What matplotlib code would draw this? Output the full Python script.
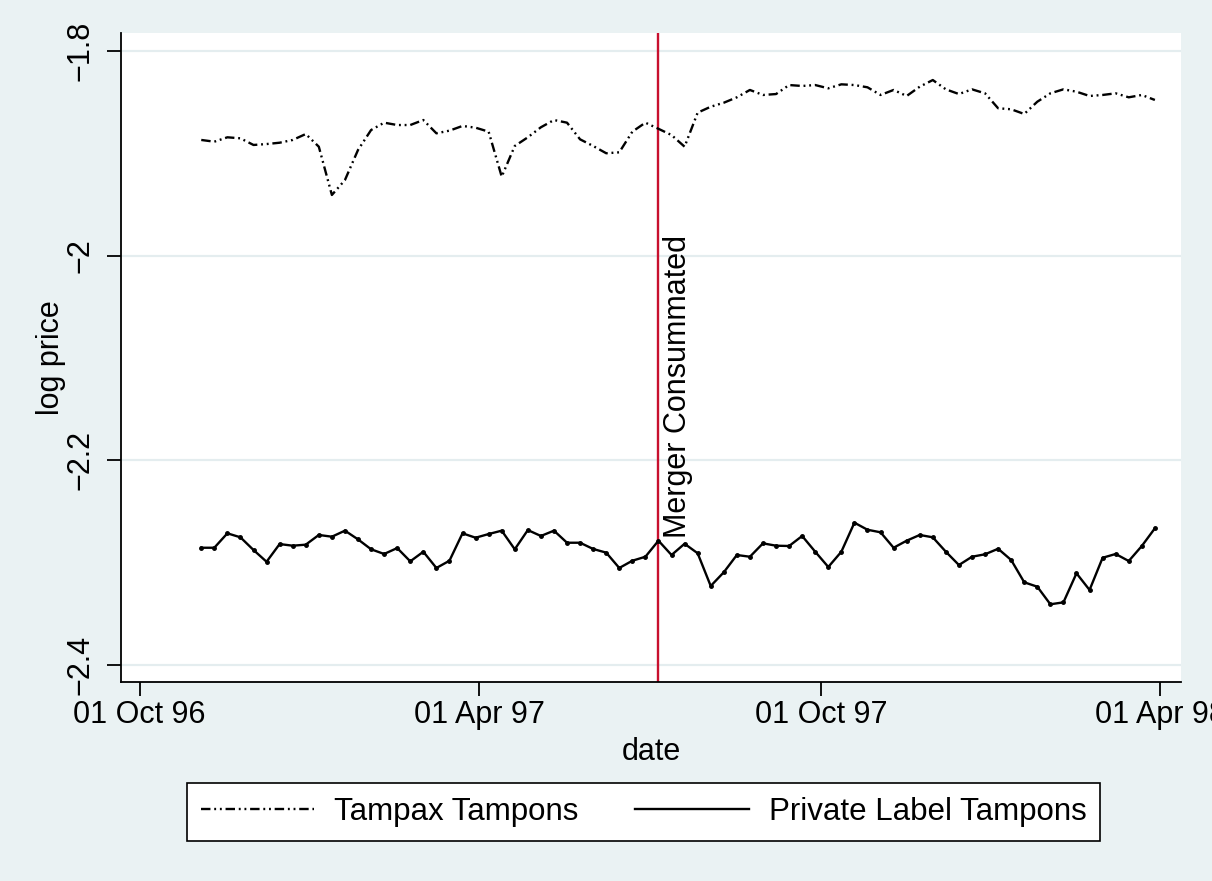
import matplotlib
matplotlib.use('Agg')
import matplotlib.pyplot as plt
from matplotlib.lines import Line2D
import pandas as pd

plt.rcParams['font.family'] = ['Liberation Sans', 'DejaVu Sans']

# ---------------- data ----------------
start_date = '1996-11-03'   # first weekly observation
merger_date = '1997-07-06'

tampax = [-1.8870, -1.8887, -1.8844, -1.8854, -1.8919, -1.8910, -1.8897, -1.8870, -1.8812, -1.8936,
          -1.9408, -1.9262, -1.8968, -1.8773, -1.8701, -1.8724, -1.8724, -1.8675, -1.8805, -1.8779,
          -1.8733, -1.8750, -1.8789, -1.9229, -1.8929, -1.8844, -1.8746, -1.8675, -1.8701, -1.8864,
          -1.8929, -1.9000, -1.8991, -1.8789, -1.8701, -1.8761, -1.8822, -1.8936, -1.8603, -1.8545,
          -1.8506, -1.8453, -1.8381, -1.8430, -1.8421, -1.8333, -1.8342, -1.8333, -1.8365, -1.8326,
          -1.8333, -1.8355, -1.8430, -1.8381, -1.8440, -1.8349, -1.8284, -1.8375, -1.8421, -1.8375,
          -1.8414, -1.8560, -1.8570, -1.8616, -1.8496, -1.8414, -1.8375, -1.8398, -1.8440, -1.8430,
          -1.8414, -1.8453, -1.8430, -1.8479]

private_label = [-2.2858, -2.2858, -2.2717, -2.2756, -2.2880, -2.2995, -2.2822, -2.2838, -2.2828, -2.2733,
                 -2.2750, -2.2691, -2.2776, -2.2873, -2.2919, -2.2861, -2.2991, -2.2897, -2.3056, -2.2985,
                 -2.2717, -2.2760, -2.2724, -2.2691, -2.2873, -2.2685, -2.2743, -2.2691, -2.2809, -2.2809,
                 -2.2870, -2.2906, -2.3056, -2.2985, -2.2946, -2.2789, -2.2929, -2.2819, -2.2912, -2.3232,
                 -2.3098, -2.2929, -2.2946, -2.2815, -2.2838, -2.2841, -2.2743, -2.2897, -2.3046, -2.2897,
                 -2.2613, -2.2682, -2.2707, -2.2858, -2.2789, -2.2733, -2.2756, -2.2897, -2.3027, -2.2946,
                 -2.2922, -2.2868, -2.2978, -2.3196, -2.3239, -2.3411, -2.3392, -2.3108, -2.3271, -2.2956,
                 -2.2919, -2.2988, -2.2841, -2.2668]

series_labels = ['Tampax Tampons', 'Private Label Tampons']
ytick_values = [-1.8, -2.0, -2.2, -2.4]
ytick_labels = ['\u22121.8', '\u22122', '\u22122.2', '\u22122.4']
xtick_dates = ['1996-10-01', '1997-04-01', '1997-10-01', '1998-04-01']
xtick_labels = ['01 Oct 96', '01 Apr 97', '01 Oct 97', '01 Apr 98']
annotation_text = 'Merger Consummated'
annotation_y = -2.276

dates = pd.date_range(start_date, periods=len(tampax), freq='7D')

# ---------------- figure ----------------
BG = '#EAF2F3'
GRID = '#E4EDEF'
RED = '#C8102E'

fig = plt.figure(figsize=(12.12, 8.81), dpi=100, facecolor=BG)
W, H = 1212, 881
ax = fig.add_axes([121 / W, 1 - 682 / H, (1181 - 121) / W, (682 - 33) / H])
ax.set_facecolor('white')
for s in ['top', 'right']:
    ax.spines[s].set_visible(False)
for s in ['left', 'bottom']:
    ax.spines[s].set_linewidth(1.3)
    ax.spines[s].set_color('black')

ax.set_ylim(-2.4171, -1.7824)
ax.set_xlim(pd.Timestamp('1996-09-21'), pd.Timestamp('1998-04-12'))

ax.yaxis.grid(True, color=GRID, linewidth=1.6)
ax.set_axisbelow(True)

ax.set_yticks(ytick_values)
ax.set_yticklabels(ytick_labels, rotation=90, va='center')
ax.set_xticks(pd.to_datetime(xtick_dates))
ax.set_xticklabels(xtick_labels)
ax.tick_params(axis='both', length=10, width=1.3, labelsize=22, color='black')
ax.tick_params(axis='y', pad=8)
ax.tick_params(axis='x', pad=3)

ax.axvline(pd.Timestamp(merger_date), color=RED, linewidth=1.7, zorder=2)

tampax_dash = (0, (4.0, 1.6, 0.8, 1.6, 0.8, 1.6))
l1, = ax.plot(dates, tampax, color='black', linewidth=1.7, linestyle=tampax_dash, zorder=3)
l2, = ax.plot(dates, private_label, color='black', linewidth=1.7, marker='o',
              markersize=2.5, zorder=3)

ax.annotate(annotation_text, xy=(pd.Timestamp(merger_date), annotation_y),
            xytext=(3, 0), textcoords='offset points', rotation=90,
            ha='left', va='bottom', fontsize=22, color='black')

ax.set_xlabel('date', fontsize=22, labelpad=5)
ax.set_ylabel('log price', fontsize=22, labelpad=0)

h1 = Line2D([], [], color='black', linewidth=1.7, linestyle=tampax_dash)
h2 = Line2D([], [], color='black', linewidth=1.7)
leg = fig.legend([h1, h2], series_labels, loc='upper left', ncol=2,
                 bbox_to_anchor=(187 / W, 1 - 783 / H),
                 fontsize=22.5, frameon=True, fancybox=False,
                 edgecolor='black', facecolor='white', framealpha=1,
                 handlelength=3.62, handletextpad=0.64, borderpad=0.45,
                 borderaxespad=0, columnspacing=1.82)
leg.get_frame().set_linewidth(1.2)

fig.savefig('out.png', dpi=100, facecolor=BG)
